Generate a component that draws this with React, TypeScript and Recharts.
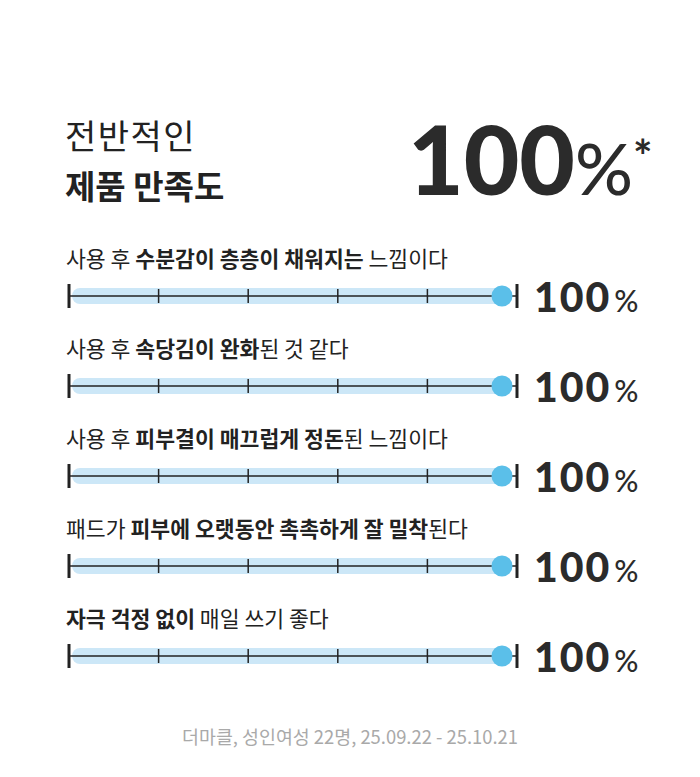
import { BarChart, Bar, XAxis, YAxis, LabelList } from "recharts";

const statements = [
  "사용 후 수분감이 층층이 채워지는 느낌이다",
  "사용 후 속당김이 완화된 것 같다",
  "사용 후 피부결이 매끄럽게 정돈된 느낌이다",
  "패드가 피부에 오랫동안 촉촉하게 잘 밀착된다",
  "자극 걱정 없이 매일 쓰기 좋다",
];

const boldParts = [
  "수분감이 층층이 채워지는",
  "속당김이 완화",
  "피부결이 매끄럽게 정돈",
  "피부에 오랫동안 촉촉하게 잘 밀착",
  "자극 걱정 없이",
];

const scores = [100, 100, 100, 100, 100];

const axisTicks = [0, 20, 40, 60, 80, 100];

const data = statements.map((s, i) => ({ name: s, score: scores[i] }));

const KR = "'Noto Sans CJK KR', 'Noto Sans', sans-serif";
const NUM = "Lato, 'Noto Sans', sans-serif";
const INK = "#222222";

function Track(props: any) {
  const { x, y, width, height } = props;
  const cy = y + height / 2;
  const at = (t: number) => x + (width * t) / 100;
  return (
    <g>
      <rect x={x + 3} y={cy - 8} width={width - 8} height={16} rx={8} fill="#cce7f7" />
      <line x1={x} x2={x + width} y1={cy} y2={cy} stroke={INK} strokeWidth={1.5} />
      {axisTicks.map((t, i) => {
        const end = i === 0 || i === axisTicks.length - 1;
        return (
          <line
            key={t}
            x1={at(t)}
            x2={at(t)}
            y1={cy - (end ? 12 : 7)}
            y2={cy + (end ? 12 : 7)}
            stroke={INK}
            strokeWidth={end ? 3 : 1.5}
          />
        );
      })}
    </g>
  );
}

function ScoreDot(props: any) {
  const { x, y, width, height } = props;
  const cy = y + height / 2;
  return <circle cx={x + width - 15} cy={cy} r={10.5} fill="#5bbfe9" />;
}

function Statement(props: any) {
  const vb = props.viewBox ?? props;
  const { x, y, height } = vb;
  const i = props.index;
  const text = statements[i];
  const b = boldParts[i];
  const k = text.indexOf(b);
  const before = text.slice(0, k);
  const after = text.slice(k + b.length);
  return (
    <text x={x - 3} y={y + height / 2 - 29} fontFamily={KR} fontSize={21.6} fill={INK}>
      {before && <tspan>{before}</tspan>}
      <tspan fontWeight={700}>{b}</tspan>
      {after && <tspan>{after}</tspan>}
    </text>
  );
}

function Percent(props: any) {
  const vb = props.viewBox ?? props;
  const { x, y, width, height } = vb;
  return (
    <text x={x + width + 17} y={y + height / 2 + 16} fontFamily={NUM} fill="#2b2b2b">
      <tspan fontSize={41} fontWeight={900} letterSpacing={2}>
        {props.value}
      </tspan>
      <tspan fontSize={30} fontWeight={500} dx={3}>%</tspan>
    </text>
  );
}

export default function App() {
  return (
    <div
      style={{
        position: "fixed",
        left: 0,
        top: 0,
        width: 700,
        height: 777,
        background: "#ffffff",
      }}
    >
      <svg width={700} height={777} style={{ position: "absolute", left: 0, top: 0 }}>
        <text x={65} y={149} fontFamily={KR} fontSize={34} letterSpacing={1.5} fill={INK}>
          전반적인
        </text>
        <text x={65} y={199} fontFamily={KR} fontSize={33} fontWeight={700} fill={INK}>
          제품 만족도
        </text>
        <text x={408} y={195} fontFamily={NUM} fill="#2b2b2b">
          <tspan fontSize={96} fontWeight={900} letterSpacing={0}>
            100
          </tspan>
          <tspan fontSize={72} fontWeight={500}>%</tspan>
          <tspan fontSize={46} fontWeight={700} dy={-22} dx={0}>*</tspan>
        </text>
        <text
          x={350}
          y={744}
          textAnchor="middle"
          fontFamily={KR}
          fontSize={18.4}
          fill="#a9a9a9"
        >
          더마클, 성인여성 22명, 25.09.22 - 25.10.21
        </text>
      </svg>
      <div style={{ position: "absolute", left: 0, top: 0 }}>
        <BarChart
          width={700}
          height={777}
          data={data}
          layout="vertical"
          margin={{ top: 251, right: 183, bottom: 76, left: 69 }}
        >
          <XAxis type="number" domain={[0, 100]} hide />
          <YAxis type="category" dataKey="name" hide />
          <Bar
            dataKey="score"
            barSize={24}
            background={(p: any) => <Track {...p} />}
            shape={(p: any) => <ScoreDot {...p} />}
            isAnimationActive={false}
          >
            <LabelList dataKey="score" content={(p: any) => <Statement {...p} />} />
            <LabelList dataKey="score" content={(p: any) => <Percent {...p} />} />
          </Bar>
        </BarChart>
      </div>
    </div>
  );
}
